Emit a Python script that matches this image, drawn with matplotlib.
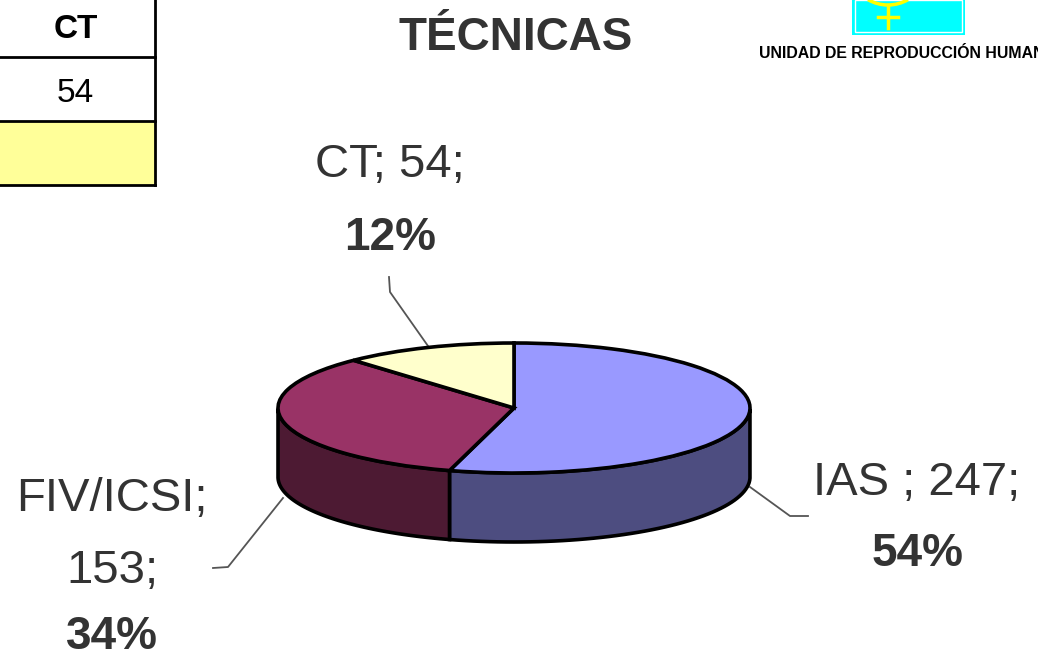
import numpy as np
import matplotlib
matplotlib.use("Agg")
import matplotlib.pyplot as plt
from matplotlib.patches import Polygon, Rectangle, Arc
from matplotlib.transforms import Affine2D

# datos
tecnicas = ["IAS ;", "FIV/ICSI;", "CT;"]
casos = [247, 153, 54]
porcentajes = ["54%", "34%", "12%"]
colores = ["#9999FF", "#993366", "#FFFFCC"]
colores_lado = ["#4D4D80", "#4D1A33"]

W, H = 1038, 656
cx, cy = 514, H - 408
rx, ry = 236, 65
prof = 69

fig = plt.figure(figsize=(W / 100, H / 100), dpi=100)
ax = fig.add_axes([0, 0, 1, 1])
plt.rcParams["font.family"] = ["Liberation Sans", "DejaVu Sans"]

# tarta de arriba, aplastada
wedges, _ = ax.pie(casos, colors=colores, startangle=90, counterclock=False,
                   center=(cx, cy), radius=rx,
                   wedgeprops=dict(edgecolor="black", linewidth=2.6))
aplasta = Affine2D().translate(-cx, -cy).scale(1, ry / rx).translate(cx, cy)
for w in wedges:
    w.set_transform(aplasta + ax.transData)
    w.set_zorder(3)

ax.set_aspect("auto")
ax.set_xlim(0, W)
ax.set_ylim(0, H)
ax.axis("off")

# lados del cilindro, visibles solo por debajo
total = sum(casos)
ini = 90.0
for i in range(2):
    fin = ini - casos[i] / total * 360
    a = np.radians(np.linspace(ini, fin, 100))
    a = a[np.sin(a) <= 0]
    x = cx + rx * np.cos(a)
    y = cy + ry * np.sin(a)
    pts = np.vstack([np.c_[x, y], np.c_[x, y - prof][::-1]])
    ax.add_patch(Polygon(pts, closed=True, facecolor=colores_lado[i],
                         edgecolor="black", linewidth=2.6, zorder=2))
    ini = fin

# lineas guia
guias = [([750, 790, 808], [487, 516, 516]),
         ([213, 228, 283], [568, 567, 498]),
         ([389, 390, 428], [277, 292, 346])]
for gx, gy in guias:
    ax.plot(gx, [H - v for v in gy], color="#555555", lw=1.3, zorder=1)

# etiquetas
gris = "#333333"
fs = 34
fb = 33
ax.text(917, H - 483, "IAS ; 247;", fontsize=fs, color=gris, ha="center", va="center")
ax.text(918, H - 554, porcentajes[0], fontsize=fb, color=gris, ha="center", va="center", fontweight="bold")
ax.text(112, H - 499, "FIV/ICSI;", fontsize=fs, color=gris, ha="center", va="center")
ax.text(112, H - 571, "153;", fontsize=fs, color=gris, ha="center", va="center")
ax.text(112, H - 637, porcentajes[1], fontsize=fb, color=gris, ha="center", va="center", fontweight="bold")
ax.text(390, H - 165, "CT; 54;", fontsize=fs, color=gris, ha="center", va="center")
ax.text(390, H - 238, porcentajes[2], fontsize=fb, color=gris, ha="center", va="center", fontweight="bold")
ax.text(516, H - 38, "TÉCNICAS", fontsize=33, color=gris, ha="center", va="center", fontweight="bold")

# tabla recortada arriba a la izquierda
ax.add_patch(Rectangle((0, H - 185), 155, 64, facecolor="#FFFF99", edgecolor="none", zorder=1))
for yy in [57, 121, 185]:
    ax.plot([0, 155], [H - yy, H - yy], color="black", lw=2.0, zorder=2)
ax.plot([155, 155], [H, H - 185], color="black", lw=2.0, zorder=2)
ax.text(76, H - 30, "CT", fontsize=24, fontweight="bold",
        ha="center", va="center", color="black")
ax.text(75, H - 94, "54", fontsize=24,
        ha="center", va="center", color="black")

# logo recortado
ax.add_patch(Rectangle((852, H - 35), 113, 35, facecolor="#00FFFF", edgecolor="none"))
ax.add_patch(Rectangle((855, H - 32), 107, 32, facecolor="none", edgecolor="white", lw=1))
ax.add_patch(Arc((888, H + 35), 80, 80, theta1=240, theta2=300, color="#FFFF00", lw=2.5))
ax.plot([888, 888], [H - 5, H - 28], color="#FFFF00", lw=2.5)
ax.plot([878, 898], [H - 17, H - 17], color="#FFFF00", lw=2.5)
ax.text(759, H - 53, "UNIDAD DE REPRODUCCIÓN HUMANA", fontsize=11.4, fontweight="bold",
        ha="left", va="center", color="black")

fig.savefig("out.png", dpi=100, facecolor="white")
